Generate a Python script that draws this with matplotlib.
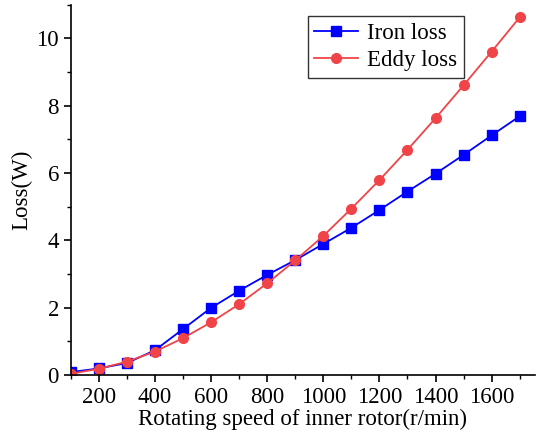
import numpy as np
import matplotlib
matplotlib.use("Agg")
import matplotlib.pyplot as plt
from matplotlib.ticker import MultipleLocator

plt.rcParams['font.family'] = ['Liberation Serif', 'DejaVu Serif']

speed = [100, 200, 300, 400, 500, 600, 700, 800, 900,
         1000, 1100, 1200, 1300, 1400, 1500, 1600, 1700]
iron_loss = [0.08, 0.19, 0.35, 0.73, 1.36, 1.99, 2.50, 2.97, 3.41,
             3.89, 4.37, 4.90, 5.45, 5.98, 6.54, 7.12, 7.69]
eddy_loss = [0.03, 0.18, 0.39, 0.69, 1.09, 1.56, 2.10, 2.72, 3.40,
             4.13, 4.94, 5.79, 6.69, 7.63, 8.61, 9.61, 10.63]

fig = plt.figure(figsize=(5.4, 4.42), dpi=100)
ax = fig.add_axes([0.131, 0.152, 0.86, 0.837])

ax.plot(speed, iron_loss, '-s', color='#0000FF', lw=1.3, ms=6.5, label='Iron loss')
ax.plot(speed, eddy_loss, '-o', color='#F04448', lw=1.3, ms=7, label='Eddy loss')

ax.set_xlim(100, 1755)
ax.set_ylim(0, 11)
ax.xaxis.set_major_locator(MultipleLocator(200))
ax.xaxis.set_minor_locator(MultipleLocator(100))
ax.yaxis.set_major_locator(MultipleLocator(2))
ax.yaxis.set_minor_locator(MultipleLocator(1))
ax.set_xticks([200, 400, 600, 800, 1000, 1200, 1400, 1600])

ax.spines['top'].set_visible(False)
ax.spines['right'].set_visible(False)
for s in ['left', 'bottom']:
    ax.spines[s].set_linewidth(1.2)
ax.tick_params(which='major', direction='out', length=5, width=1.2, labelsize=16.5)
ax.tick_params(which='minor', direction='out', length=3, width=1.0)

ax.set_xlabel('Rotating speed of inner rotor(r/min)', fontsize=16.5, labelpad=1)
ax.set_ylabel('Loss(W)', fontsize=16.5, labelpad=3)

leg = ax.legend(loc='upper left', bbox_to_anchor=(0.51, 0.97), fontsize=16.5,
                frameon=True, fancybox=False, edgecolor='black',
                handlelength=1.9, borderpad=0.3, labelspacing=0.25, handletextpad=0.4,
                borderaxespad=0)
leg.get_frame().set_linewidth(1.0)

fig.savefig('out.png', dpi=100)
